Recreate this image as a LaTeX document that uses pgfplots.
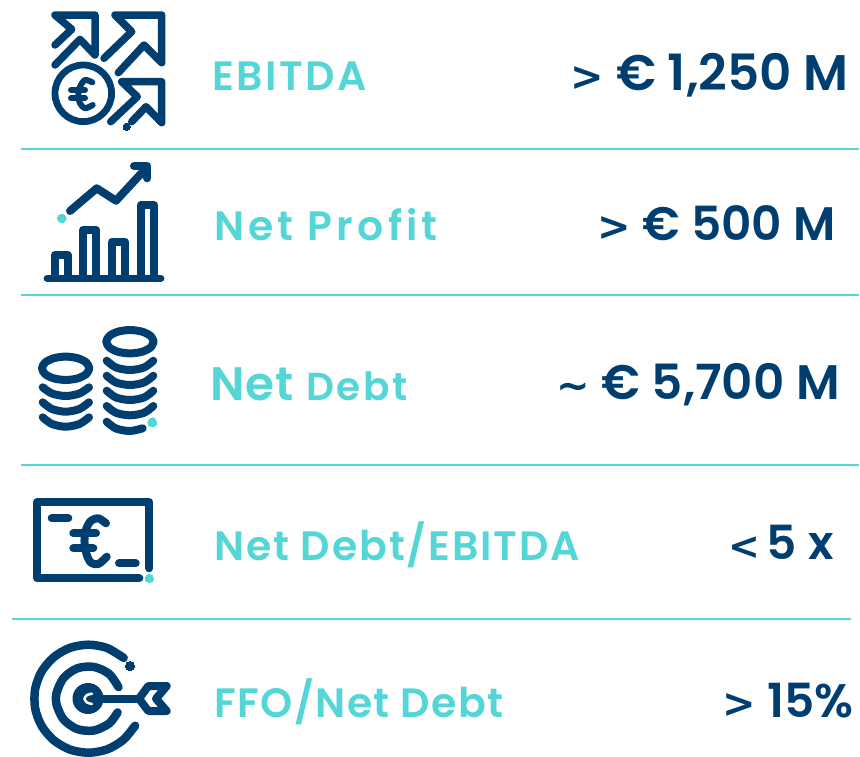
\documentclass[border=0pt]{standalone}
\usepackage{pgfplots}
\pgfplotsset{compat=1.18}
\usepackage{fontspec}
\setmainfont{Poppins}
\newfontfamily\lab{Poppins SemiBold}[LetterSpace=3.5]
\newfontfamily\labn{Poppins SemiBold}[LetterSpace=1.5]
\newfontfamily\val{Poppins SemiBold}[LetterSpace=0]
\newfontfamily\sym{DejaVu Sans Bold}
\definecolor{navy}{HTML}{003E70}
\definecolor{teal1}{HTML}{55D6D6}
\pgfplotsset{
 ic/.style={navy,line width=#1,line cap=round,line join=round,no markers},
 ic/.default=8pt,
 dot/.style 2 args={only marks,color=#2,mark=*,mark size=#1pt,mark options={draw=#2,fill=#2,line width=0pt}},
 sep/.style={teal1,line width=2pt,no markers}
}
\begin{document}
\begin{tikzpicture}
\path (0,0) rectangle (860pt,756pt);
\begin{axis}[width=860pt,height=756pt,scale only axis,axis lines=none,at={(0,0)},anchor=south west,
 xmin=0,xmax=860,ymin=0,ymax=756,y dir=reverse,clip=true]
% separators
\addplot[sep] coordinates {(21,149)(859,149)};
\addplot[sep] coordinates {(21,295)(859,295)};
\addplot[sep] coordinates {(21,465)(859,465)};
\addplot[sep] coordinates {(12,619)(851,619)};
% icon 1
\addplot[ic=7.5pt] coordinates {(55,45)(71.7,29.3)(55,15)(95,15)(95,55)(80,39.3)(55,65)};
\addplot[ic=7.5pt] coordinates {(104,58.3)(131.7,31.7)(115,15)(161.7,15)(161.7,62.7)(144,45)(118.3,72.7)};
\addplot[ic=7.5pt] coordinates {(110.7,121.7)(137.3,96.7)(121.7,81.7)(161.7,81.7)(161.7,122.7)(146,106.7)(131.7,121.7)};
\addplot[navy,only marks,mark=o,mark size=28.3pt,mark options={line width=6.8pt,draw=navy}] coordinates {(83.3,93.3)};
\addplot[ic=6pt,smooth] coordinates {(92.3,82.3)(85,80)(80,86.7)(78.3,95)(80,103.3)(85,108.3)(92.7,105)};
\addplot[ic=6pt] coordinates {(71,90)(85,90)};
\addplot[ic=6pt] coordinates {(71,98.3)(85,98.3)};
\addplot[dot={3.7}{navy}] coordinates {(126.7,126.7)};
% icon 2
\addplot[ic=7.5pt] coordinates {(47.3,278.3)(160.7,278.3)};
\addplot[ic=8pt] coordinates {(55,278)(55,255)(67.7,255)(67.7,278)};
\addplot[ic=8pt] coordinates {(83.3,278)(83.3,230)(96.3,230)(96.3,278)};
\addplot[ic=8pt] coordinates {(112.3,278)(112.3,241.7)(125,241.7)(125,278)};
\addplot[ic=8pt] coordinates {(141,278)(141,205)(154,205)(154,278)};
\addplot[ic=8pt] coordinates {(70,211)(96.7,188.3)(116,200.7)(146,168.3)};
\addplot[ic=8pt] coordinates {(134,166)(147.3,166)(147.3,178.3)};
\addplot[dot={4.3}{teal1}] coordinates {(61.7,218.3)};
% icon 3
\addplot[ic=8pt,smooth] coordinates {(89.4,368.3)(86.2,374.15)(77.55,378.4)(65.7,380)(53.85,378.4)(45.2,374.15)(42,368.3)(45.2,362.45)(53.85,358.2)(65.7,356.6)(77.55,358.2)(86.2,362.45)(89.4,368.3)};
\addplot[ic=8pt,smooth] coordinates {(153.7,341.7)(150.5,347.55)(141.85,351.8)(130,353.4)(118.15,351.8)(109.5,347.55)(106.3,341.7)(109.5,335.85)(118.15,331.6)(130,330)(141.85,331.6)(150.5,335.85)(153.7,341.7)};
\addplot[ic=8pt,smooth] coordinates {(42.7,387.3)(52,393.5)(65.7,396)(79.4,393.5)(89,387.3)};
\addplot[ic=8pt,smooth] coordinates {(42.7,402.3)(52,409)(65.7,411.7)(79.4,409)(89,402.3)};
\addplot[ic=8pt,smooth] coordinates {(42.7,417.3)(52,424)(65.7,426.7)(79.4,424)(89,417.3)};
\addplot[ic=8pt,smooth] coordinates {(106.7,360.7)(116,367.5)(130,370)(144,367.5)(153.3,360.7)};
\addplot[ic=8pt,smooth] coordinates {(106.7,375.7)(116,382.5)(130,385)(144,382.5)(153.3,375.7)};
\addplot[ic=8pt,smooth] coordinates {(106.7,390.7)(116,397.5)(130,400)(144,397.5)(153.3,390.7)};
\addplot[ic=8pt,smooth] coordinates {(106.7,406)(116,412.8)(130,415.3)(144,412.8)(153.3,406)};
\addplot[ic=8pt,smooth] coordinates {(106.7,421.7)(116,428.5)(130,431)(142.7,428.3)};
\addplot[dot={4.5}{teal1}] coordinates {(152.3,422.3)};
% icon 4
\addplot[ic=8pt] coordinates {(139.3,578.3)(37.3,578.3)(37.3,502.3)(149.3,502.3)(149.3,568.3)};
\addplot[ic=8pt] coordinates {(51.7,518.3)(68.3,518.3)};
\addplot[ic=8pt] coordinates {(119,563.3)(135.7,563.3)};
\addplot[ic=8pt,smooth] coordinates {(106,523.3)(98.3,518.3)(90,521.7)(85,533.3)(85,548.3)(90,561.7)(98.3,564)(106.7,556.7)};
\addplot[ic=8pt] coordinates {(73.3,533.3)(96,533.3)};
\addplot[ic=8pt] coordinates {(73.3,548.3)(93.3,548.3)};
\addplot[dot={4.2}{teal1}] coordinates {(149.3,578.3)};
% icon 5
\addplot[ic=8.5pt,smooth] coordinates {(123.7,657.9)(106.8,647.9)(88.3,644.7)(69.8,647.9)(53.6,657.3)(41.5,671.7)(35.1,689.3)(35.1,708.1)(41.5,725.7)(53.6,740.1)(69.8,749.5)(88.3,752.7)(106.8,749.5)(123,740.1)(135.1,725.7)};
\addplot[ic=8.5pt,smooth] coordinates {(118.5,687.1)(109.1,673.9)(93.9,666.9)(77.3,668.3)(63.6,677.9)(56.5,693.1)(56.5,704.3)(63.6,719.5)(77.3,729.1)(93.9,730.5)(109.1,723.5)(117.6,712.4)};
\addplot[ic=31pt] coordinates {(88,698.7)(88.01,698.7)};
\addplot[ic=8pt] coordinates {(100,698.7)(139,698.7)};
\addplot[white,line width=2.5pt,smooth,no markers,line cap=round] coordinates {(92,693.7)(87,695)(84.5,698.7)(87,702.5)(92,704)};
\addplot[ic=8pt] coordinates {(139,698.7)(148.3,686)(166.7,686)(156,698.7)(166.7,711)(148.3,711)(139,698.7)};
\addplot[dot={4.5}{navy}] coordinates {(130,666)};
% labels
\node[inner sep=0,anchor=base west,text=teal1] at (axis cs:212,90) {\fontsize{41}{41}\lab\addfontfeature{LetterSpace=6.3}EBITDA};
\node[inner sep=0,anchor=base west,text=teal1] at (axis cs:214,240) {\fontsize{41}{41}\lab\addfontfeature{LetterSpace=10.2}Net Profit};
\node[inner sep=0,anchor=base west,text=teal1] at (axis cs:210,400) {\fontsize{47}{47}\labn Net};
\node[inner sep=0,anchor=base west,text=teal1] at (axis cs:306,400) {\fontsize{39}{39}\lab\addfontfeature{LetterSpace=6.7}Debt};
\node[inner sep=0,anchor=base west,text=teal1] at (axis cs:214,560) {\fontsize{41}{41}\lab\addfontfeature{LetterSpace=4.6}Net Debt/EBITDA};
\node[inner sep=0,anchor=base west,text=teal1] at (axis cs:214,717) {\fontsize{41}{41}\lab FFO/Net Debt};
% values
\node[inner sep=0,anchor=base east,text=navy] at (axis cs:849,90) {\fontsize{40}{47}\sym >\fontsize{50}{50}\val{} € 1,250 M};
\node[inner sep=0,anchor=base east,text=navy] at (axis cs:836,240) {\fontsize{40}{47}\sym >\fontsize{47}{47}\val{} € 500 M};
\node[inner sep=0,anchor=base east,text=navy] at (axis cs:840,399) {\fontsize{40}{47}\sym \textasciitilde\fontsize{48.5}{49}\val{} € 5,700 M};
\node[inner sep=0,anchor=base east,text=navy] at (axis cs:834,559) {\fontsize{38}{47}\sym <\hspace{-5pt}\fontsize{47}{47}\val{} 5 x};
\node[inner sep=0,anchor=base east,text=navy] at (axis cs:853.5,717) {\fontsize{40}{47}\sym >\fontsize{47}{47}\val{} 15\%};
\end{axis}
\end{tikzpicture}
\end{document}
